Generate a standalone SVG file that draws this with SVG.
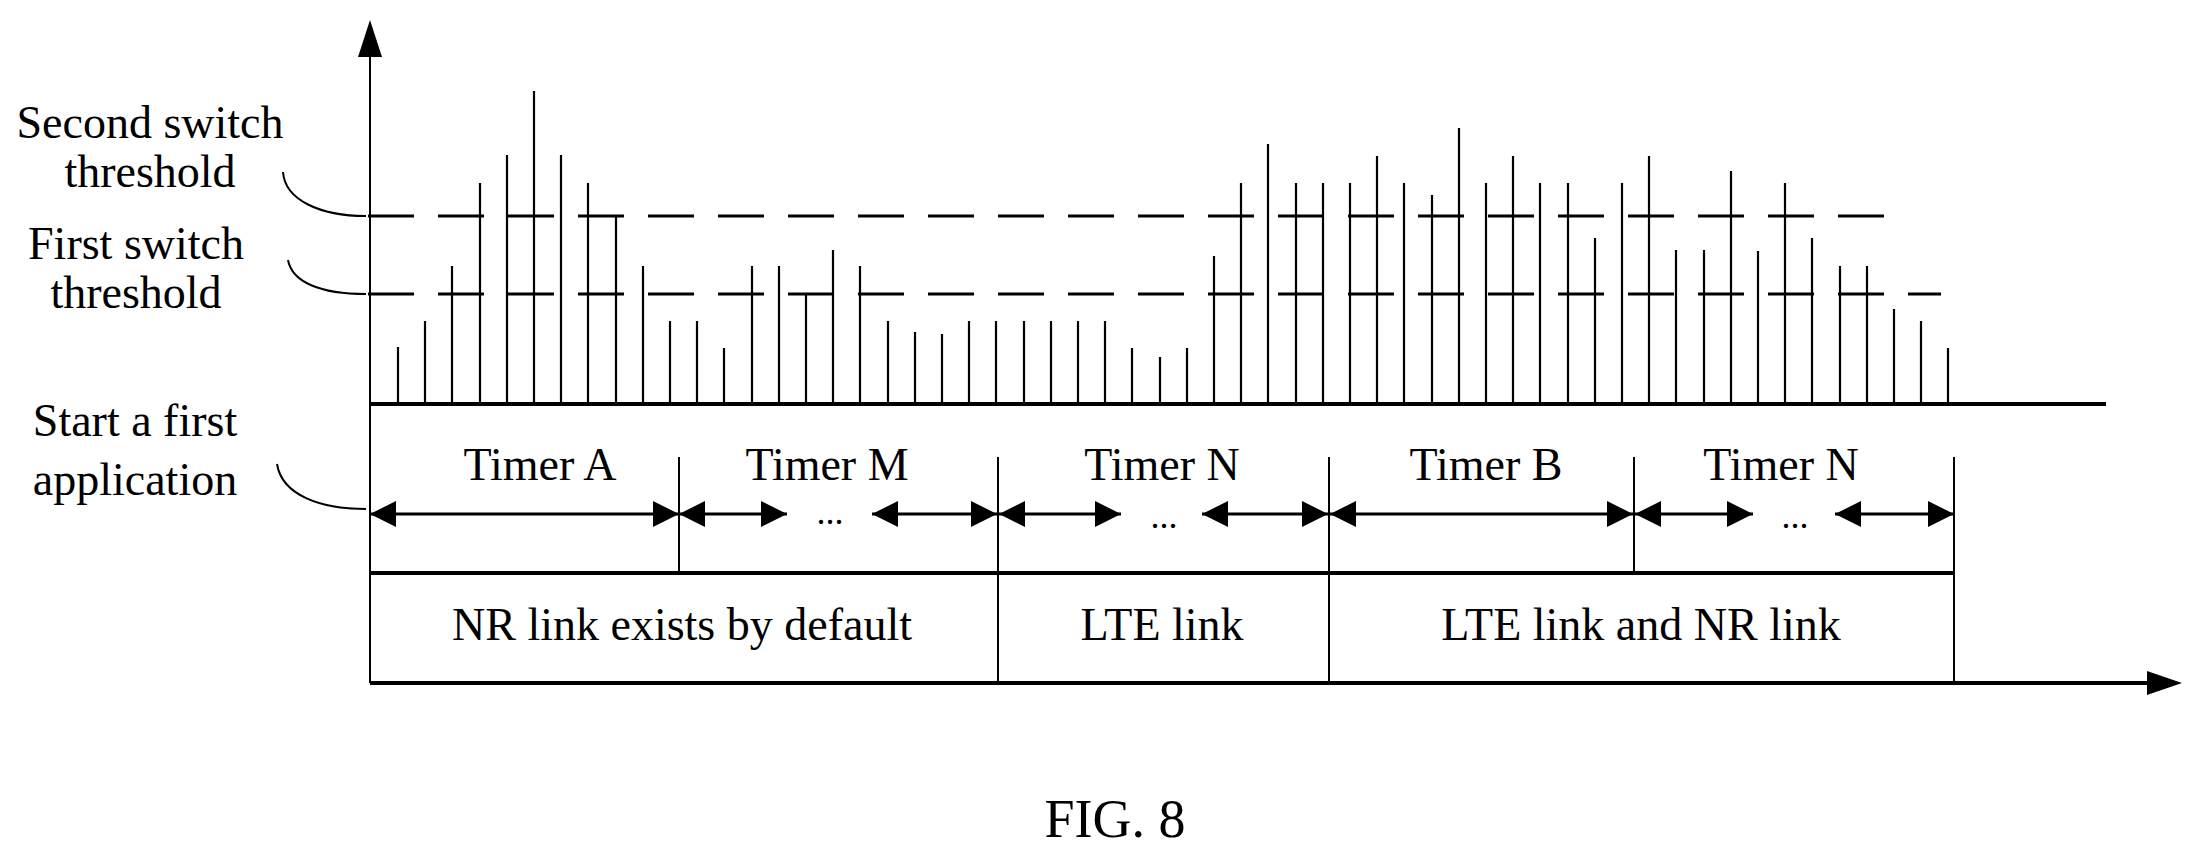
<svg xmlns="http://www.w3.org/2000/svg" width="2205" height="861" viewBox="0 0 2205 861">
<style>
text{font-family:"Liberation Serif","Times New Roman",serif;font-size:46px;fill:#000;text-anchor:middle}
.el{font-size:36px}
.bar{stroke:#000;stroke-width:2.2}
.ln{stroke:#000;fill:none}
.dash{stroke:#000;stroke-width:3;stroke-dasharray:46 24;fill:none}
.dbl{stroke:#000;stroke-width:3;marker-start:url(#a);marker-end:url(#a)}
</style>
<defs>
<marker id="a" viewBox="0 0 26 26" refX="26" refY="13" markerWidth="26" markerHeight="26" markerUnits="userSpaceOnUse" orient="auto-start-reverse"><path d="M0,0 L26,13 L0,26 Z"/></marker>
</defs>
<rect width="2205" height="861" fill="#fff"/>
<g id="axes">
<line class="ln" x1="370" y1="50" x2="370" y2="683" stroke-width="2"/>
<path d="M370,20 L358,57 L382,57 Z"/>
<line class="ln" x1="370" y1="683" x2="2150" y2="683" stroke-width="4"/>
<path d="M2182,683 L2147,671 L2147,695 Z"/>
<line class="ln" x1="370" y1="404" x2="2106" y2="404" stroke-width="4"/>
</g>
<g id="bars">
<line class="bar" x1="398" y1="404" x2="398" y2="347"/><line class="bar" x1="425" y1="404" x2="425" y2="321"/><line class="bar" x1="452" y1="404" x2="452" y2="266"/><line class="bar" x1="480" y1="404" x2="480" y2="183"/><line class="bar" x1="507" y1="404" x2="507" y2="155"/><line class="bar" x1="534" y1="404" x2="534" y2="91"/><line class="bar" x1="561" y1="404" x2="561" y2="155"/><line class="bar" x1="588" y1="404" x2="588" y2="183"/><line class="bar" x1="616" y1="404" x2="616" y2="217"/><line class="bar" x1="643" y1="404" x2="643" y2="266"/><line class="bar" x1="670" y1="404" x2="670" y2="321"/><line class="bar" x1="697" y1="404" x2="697" y2="321"/><line class="bar" x1="724" y1="404" x2="724" y2="348"/><line class="bar" x1="752" y1="404" x2="752" y2="266"/><line class="bar" x1="779" y1="404" x2="779" y2="266"/><line class="bar" x1="806" y1="404" x2="806" y2="294"/><line class="bar" x1="833" y1="404" x2="833" y2="250"/><line class="bar" x1="860" y1="404" x2="860" y2="266"/><line class="bar" x1="888" y1="404" x2="888" y2="321"/><line class="bar" x1="915" y1="404" x2="915" y2="332"/><line class="bar" x1="942" y1="404" x2="942" y2="334"/><line class="bar" x1="969" y1="404" x2="969" y2="321"/><line class="bar" x1="996" y1="404" x2="996" y2="321"/><line class="bar" x1="1024" y1="404" x2="1024" y2="321"/><line class="bar" x1="1051" y1="404" x2="1051" y2="321"/><line class="bar" x1="1078" y1="404" x2="1078" y2="321"/><line class="bar" x1="1105" y1="404" x2="1105" y2="321"/><line class="bar" x1="1132" y1="404" x2="1132" y2="348"/><line class="bar" x1="1160" y1="404" x2="1160" y2="357"/><line class="bar" x1="1187" y1="404" x2="1187" y2="348"/><line class="bar" x1="1214" y1="404" x2="1214" y2="256"/><line class="bar" x1="1241" y1="404" x2="1241" y2="183"/><line class="bar" x1="1268" y1="404" x2="1268" y2="144"/><line class="bar" x1="1296" y1="404" x2="1296" y2="183"/><line class="bar" x1="1323" y1="404" x2="1323" y2="183"/><line class="bar" x1="1350" y1="404" x2="1350" y2="183"/><line class="bar" x1="1377" y1="404" x2="1377" y2="156"/><line class="bar" x1="1404" y1="404" x2="1404" y2="183"/><line class="bar" x1="1432" y1="404" x2="1432" y2="195"/><line class="bar" x1="1459" y1="404" x2="1459" y2="128"/><line class="bar" x1="1486" y1="404" x2="1486" y2="183"/><line class="bar" x1="1513" y1="404" x2="1513" y2="156"/><line class="bar" x1="1540" y1="404" x2="1540" y2="183"/><line class="bar" x1="1568" y1="404" x2="1568" y2="183"/><line class="bar" x1="1595" y1="404" x2="1595" y2="238"/><line class="bar" x1="1622" y1="404" x2="1622" y2="183"/><line class="bar" x1="1649" y1="404" x2="1649" y2="156"/><line class="bar" x1="1676" y1="404" x2="1676" y2="250"/><line class="bar" x1="1704" y1="404" x2="1704" y2="250"/><line class="bar" x1="1731" y1="404" x2="1731" y2="171"/><line class="bar" x1="1758" y1="404" x2="1758" y2="251"/><line class="bar" x1="1785" y1="404" x2="1785" y2="183"/><line class="bar" x1="1812" y1="404" x2="1812" y2="238"/><line class="bar" x1="1840" y1="404" x2="1840" y2="266"/><line class="bar" x1="1867" y1="404" x2="1867" y2="266"/><line class="bar" x1="1894" y1="404" x2="1894" y2="309"/><line class="bar" x1="1921" y1="404" x2="1921" y2="321"/><line class="bar" x1="1948" y1="404" x2="1948" y2="348"/>
</g>
<g id="thresholds">
<line class="dash" x1="368" y1="216" x2="1895" y2="216"/>
<line class="dash" x1="368" y1="294" x2="1941" y2="294"/>
<path class="ln" stroke-width="2" d="M283,172 C285,200 320,216 366,216"/>
<path class="ln" stroke-width="2" d="M288,260 C292,282 320,294 366,294"/>
<path class="ln" stroke-width="2" d="M277,464 C282,495 320,509 366,509"/>
</g>
<g id="labels">
<text x="150" y="138">Second switch</text>
<text x="150" y="187">threshold</text>
<text x="136" y="259">First switch</text>
<text x="136" y="308">threshold</text>
<text x="135" y="436">Start a first</text>
<text x="135" y="495">application</text>
</g>
<g id="timers">
<line class="ln" stroke-width="2" x1="679" y1="457" x2="679" y2="573"/>
<line class="ln" stroke-width="2" x1="998" y1="457" x2="998" y2="683"/>
<line class="ln" stroke-width="2" x1="1329" y1="457" x2="1329" y2="683"/>
<line class="ln" stroke-width="2" x1="1634" y1="457" x2="1634" y2="573"/>
<line class="ln" stroke-width="2" x1="1954" y1="457" x2="1954" y2="683"/>
<line class="ln" stroke-width="4" x1="370" y1="573" x2="1954" y2="573"/>
<text x="540" y="480">Timer A</text>
<text x="827" y="480">Timer M</text>
<text x="1162" y="480">Timer N</text>
<text x="1486" y="480">Timer B</text>
<text x="1781" y="480">Timer N</text>
<text class="el" x="830" y="524">...</text>
<text class="el" x="1164" y="528">...</text>
<text class="el" x="1795" y="528">...</text>
</g>
<g id="connectors">
<line class="dbl" x1="370" y1="514" x2="679" y2="514"/>
<line class="dbl" x1="679" y1="514" x2="787" y2="514"/>
<line class="dbl" x1="872" y1="514" x2="997" y2="514"/>
<line class="dbl" x1="999" y1="514" x2="1121" y2="514"/>
<line class="dbl" x1="1202" y1="514" x2="1328" y2="514"/>
<line class="dbl" x1="1330" y1="514" x2="1633" y2="514"/>
<line class="dbl" x1="1635" y1="514" x2="1753" y2="514"/>
<line class="dbl" x1="1835" y1="514" x2="1954" y2="514"/>
</g>
<g id="links">
<text x="682" y="640">NR link exists by default</text>
<text x="1162" y="640">LTE link</text>
<text x="1641" y="640">LTE link and NR link</text>
</g>
<text x="1115" y="837" style="font-size:54px">FIG. 8</text>
</svg>
